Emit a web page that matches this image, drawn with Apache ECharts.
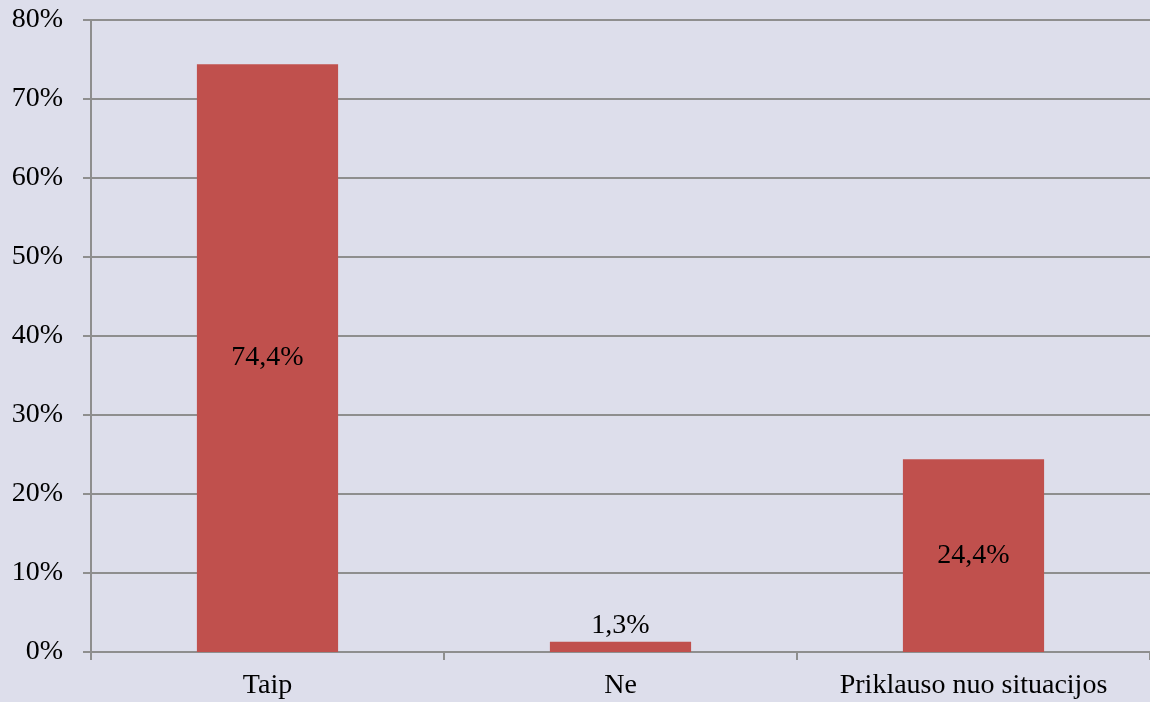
<!DOCTYPE html>
<html>
<head>
<meta charset="utf-8">
<script src="https://cdn.jsdelivr.net/npm/echarts@6/dist/echarts.min.js"></script>
<style>
  html, body { margin: 0; padding: 0; background: #dddeeb; }
  #chart { width: 1150px; height: 702px; }
</style>
</head>
<body>
<div id="chart"></div>
<script>
const categories = ['Taip', 'Ne', 'Priklauso nuo situacijos']
const values = [74.4, 1.3, 24.4]
const valueLabels = ['74,4%', '1,3%', '24,4%']

const chart = echarts.init(document.getElementById('chart'))
const font = 'Liberation Serif'
const gridColor = '#8e8e8e'

chart.setOption({
  animation: false,
  backgroundColor: '#dddeeb',
  grid: { left: 91, right: -3, top: 20, bottom: 50 },
  xAxis: {
    type: 'category',
    data: categories,
    axisLine: { lineStyle: { color: gridColor, width: 2 } },
    axisTick: { show: true, length: 8, lineStyle: { color: gridColor, width: 2 } },
    axisLabel: { color: '#000', fontFamily: font, fontSize: 28, margin: 20 }
  },
  yAxis: {
    type: 'value',
    min: 0,
    max: 80,
    interval: 10,
    axisLine: { show: true, lineStyle: { color: gridColor, width: 2 } },
    axisTick: { show: true, length: 8, lineStyle: { color: gridColor, width: 2 } },
    splitLine: { lineStyle: { color: gridColor, width: 2 } },
    axisLabel: {
      color: '#000',
      fontFamily: font,
      fontSize: 28,
      margin: 28,
      formatter: v => v + '%'
    }
  },
  series: [
    {
      type: 'bar',
      barWidth: '40%',
      data: values.map((v, i) => ({
        value: v,
        label: {
          show: true,
          position: v < 5 ? 'top' : 'inside',
          distance: 2,
          formatter: valueLabels[i],
          color: '#000',
          fontFamily: font,
          fontSize: 28
        }
      })),
      itemStyle: { color: '#c0504d' }
    }
  ]
})
</script>
</body>
</html>
